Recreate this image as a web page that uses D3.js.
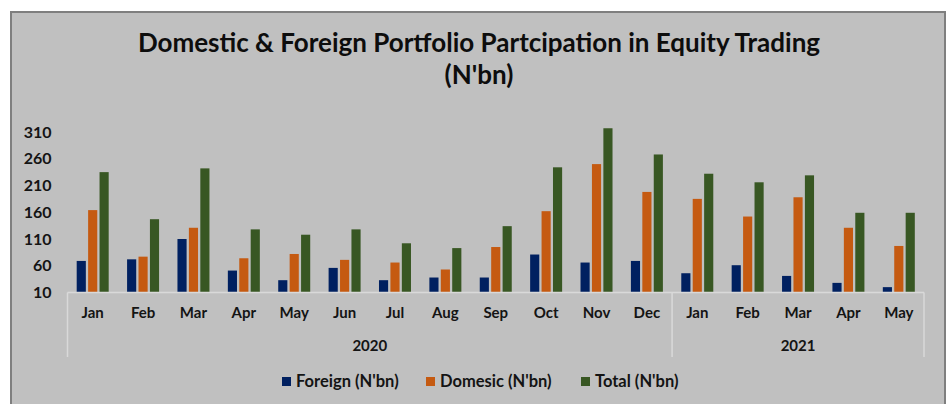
<!DOCTYPE html>
<html>
<head>
<meta charset="utf-8">
<script src="https://cdn.jsdelivr.net/npm/d3@7"></script>
<style>
  html, body { margin: 0; padding: 0; background: #ffffff; }
  svg { display: block; }
  text { font-family: Lato, "Open Sans", sans-serif; font-weight: bold; }
</style>
</head>
<body>
<svg id="chart" width="951" height="404"></svg>
<script>
// ---- data ----
const months = ["Jan","Feb","Mar","Apr","May","Jun","Jul","Aug","Sep","Oct","Nov","Dec","Jan","Feb","Mar","Apr","May"];
const yearLabels = ["2020", "2021"];
const yearSpans = [12, 5];
const foreign  = [69, 72, 110, 51, 33, 56, 33, 38, 38, 81, 66, 69, 46, 61, 41, 28, 20];
const domestic = [164, 77, 131, 74, 82, 71, 66, 53, 95, 162, 250, 198, 185, 152, 188, 131, 97];
const total    = [235, 147, 242, 128, 118, 128, 102, 93, 134, 244, 317, 268, 232, 216, 229, 159, 159];
const seriesNames = ["Foreign (N'bn)", "Domesic (N'bn)", "Total (N'bn)"];
const yTicks = [10, 60, 110, 160, 210, 260, 310];
const titleLines = ["Domestic & Foreign Portfolio Partcipation in Equity Trading", "(N'bn)"];

const seriesValues = [foreign, domestic, total];
const colors = ["#002060", "#C55A11", "#385723"];

const svg = d3.select("#chart");

// chart frame
svg.append("rect")
  .attr("x", 11).attr("y", 12)
  .attr("width", 934).attr("height", 400)
  .attr("fill", "#c0c0c0")
  .attr("stroke", "#7f7f7f").attr("stroke-width", 2);

// title
const title = svg.append("text")
  .attr("text-anchor", "middle")
  .attr("fill", "#0d0d0d")
  .style("font-size", "26px");
title.selectAll("tspan").data(titleLines).join("tspan")
  .attr("x", 479)
  .attr("y", (d, i) => 52 + i * 32)
  .text(d => d);

// scales
const left = 67.5, right = 924, baseY = 292.5;
const x0 = d3.scaleBand()
  .domain(d3.range(months.length))
  .range([left, right])
  .paddingInner(0.365)
  .paddingOuter(0.1825);
const x1 = d3.scaleBand()
  .domain(d3.range(seriesValues.length))
  .range([0, x0.bandwidth()])
  .paddingInner(0.2);
const y = d3.scaleLinear().domain([10, 330]).range([baseY, 121.3]);

const labelColor = "#141414";

// y axis labels
const yAxis = svg.append("g")
  .attr("transform", `translate(${left - 2},0)`)
  .call(d3.axisLeft(y).tickValues(yTicks).tickSize(0).tickPadding(14).tickFormat(d3.format("d")));
yAxis.select(".domain").remove();
yAxis.selectAll("text")
  .attr("fill", labelColor)
  .style("font-size", "16px")
  .style("font-family", "Lato, sans-serif")
  .style("font-weight", "bold");

// bars
const groups = svg.append("g").selectAll("g")
  .data(months.map((m, i) => i))
  .join("g")
  .attr("transform", i => `translate(${x0(i)},0)`);
groups.selectAll("rect")
  .data(i => seriesValues.map((s, k) => ({ k, v: s[i] })))
  .join("rect")
  .attr("x", d => x1(d.k))
  .attr("width", x1.bandwidth())
  .attr("y", d => y(d.v))
  .attr("height", d => y(10) - y(d.v))
  .attr("fill", d => colors[d.k]);

// x axis (months)
const axisColor = "#d9d9d9";
const xAxis = svg.append("g")
  .attr("transform", `translate(0,${baseY})`)
  .call(d3.axisBottom(x0).tickSize(0).tickPadding(15).tickFormat(i => months[i]));
xAxis.select(".domain").attr("stroke", axisColor).attr("stroke-width", 1.5)
  .attr("d", `M${left},0H${right}`);
xAxis.selectAll("text")
  .attr("fill", labelColor)
  .style("font-size", "15px")
  .style("font-family", "Lato, sans-serif")
  .style("font-weight", "bold");

// year groups
const step = x0.step();
let startIdx = 0;
const bounds = [left];
yearSpans.forEach(n => { startIdx += n; bounds.push(left + startIdx * step); });
svg.append("g").selectAll("line").data(bounds).join("line")
  .attr("x1", d => d).attr("x2", d => d)
  .attr("y1", baseY).attr("y2", 357)
  .attr("stroke", axisColor).attr("stroke-width", 1.5);
svg.append("g").selectAll("text").data(yearLabels).join("text")
  .attr("x", (d, i) => (bounds[i] + bounds[i + 1]) / 2)
  .attr("y", 351)
  .attr("text-anchor", "middle")
  .attr("fill", labelColor)
  .style("font-size", "15px")
  .text(d => d);

// legend
const legendX = [282, 426, 581];
const legend = svg.append("g").selectAll("g").data(seriesNames).join("g")
  .attr("transform", (d, i) => `translate(${legendX[i]},377)`);
legend.append("rect").attr("width", 9).attr("height", 9).attr("fill", (d, i) => colors[i]);
legend.append("text")
  .attr("x", 14).attr("y", 10)
  .attr("fill", labelColor)
  .style("font-size", "16.5px")
  .text(d => d);
</script>
</body>
</html>
